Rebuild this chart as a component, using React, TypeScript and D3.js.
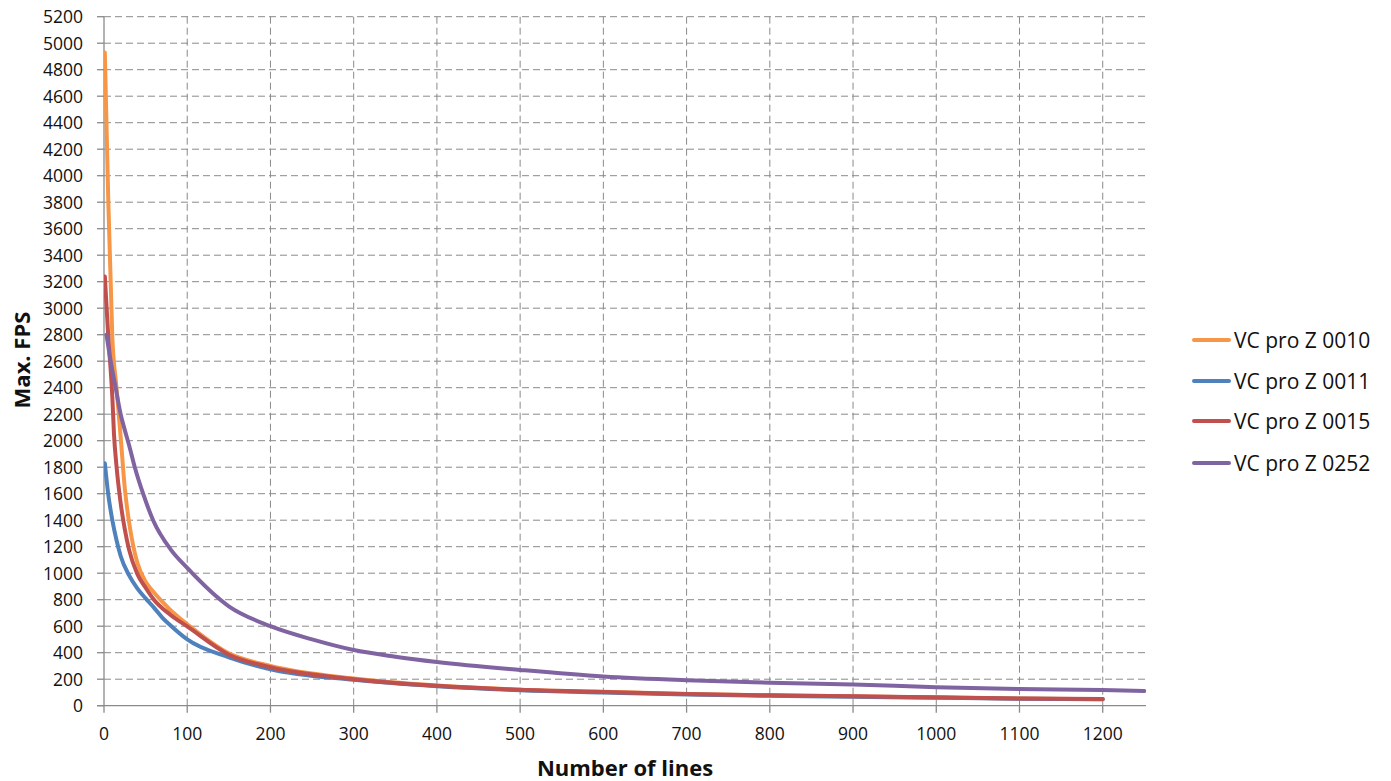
import React from "react";
import * as d3 from "d3";

const seriesNames = ["VC pro Z 0010", "VC pro Z 0011", "VC pro Z 0015", "VC pro Z 0252"];
const seriesColors = ["#F79646", "#4F81BD", "#C0504D", "#8064A2"];

const xOrange = [1, 5, 10, 15, 20, 25, 30, 35, 40, 50, 60, 70, 80, 90, 100, 150, 200, 300, 400, 500, 600, 700, 800, 900, 1000, 1100, 1200];
const yOrange = [4930, 3850, 2780, 2400, 2030, 1640, 1390, 1210, 1080, 935, 855, 785, 720, 665, 615, 395, 300, 205, 152, 121, 105, 89, 78, 71, 62, 54, 49];

const xBlue = [1, 5, 10, 15, 20, 30, 40, 50, 60, 70, 80, 100, 150, 200, 300, 400, 500, 600, 700, 800, 900, 1000, 1100, 1200];
const yBlue = [1830, 1600, 1400, 1250, 1130, 985, 885, 810, 740, 665, 605, 500, 365, 275, 195, 147, 117, 100, 85, 75, 68, 60, 52, 48];

const xRed = [1, 5, 10, 12, 15, 20, 25, 30, 40, 50, 60, 80, 100, 150, 200, 300, 400, 500, 600, 700, 800, 900, 1000, 1100, 1200];
const yRed = [3240, 2800, 2330, 2050, 1810, 1530, 1330, 1180, 995, 890, 800, 685, 598, 385, 290, 200, 150, 120, 104, 88, 78, 72, 63, 54, 50];

const xPurple = [3, 8, 14, 20, 25, 30, 37, 47, 59, 80, 100, 150, 200, 250, 300, 350, 400, 500, 600, 700, 800, 900, 1000, 1100, 1200, 1250];
const yPurple = [2800, 2600, 2400, 2200, 2080, 1970, 1800, 1600, 1400, 1180, 1040, 750, 600, 500, 420, 370, 330, 270, 220, 192, 174, 160, 140, 126, 118, 111];

const xTicks = [0, 100, 200, 300, 400, 500, 600, 700, 800, 900, 1000, 1100, 1200];
const yTicks = d3.range(0, 5201, 200);

const xTitle = "Number of lines";
const yTitle = "Max. FPS";

const W = 1391;
const H = 781;
const left = 104;
const right = 1146;
const top = 16.7;
const bottom = 705.7;

export default function App() {
  const x = d3.scaleLinear().domain([0, 1252]).range([left, right]);
  const y = d3.scaleLinear().domain([0, 5200]).range([bottom, top]);

  const series = [
    { xs: xOrange, ys: yOrange },
    { xs: xBlue, ys: yBlue },
    { xs: xRed, ys: yRed },
    { xs: xPurple, ys: yPurple },
  ];

  const line = d3
    .line<[number, number]>()
    .x((d) => x(d[0]))
    .y((d) => y(d[1]))
    .curve(d3.curveMonotoneX);

  const font = "'Open Sans', 'DejaVu Sans', sans-serif";
  const gridColor = "#8a8a8a";

  return (
    <svg
      width={W}
      height={H}
      style={{ position: "absolute", left: 0, top: 0, background: "#fff" }}
      fontFamily={font}
    >
      <defs>
        <clipPath id="plotClip">
          <rect x={left} y={top - 5} width={right - left} height={bottom - top + 5} />
        </clipPath>
      </defs>
      {yTicks.filter((t) => t > 0).map((t) => (
        <line
          key={"hg" + t}
          x1={left}
          x2={right}
          y1={y(t)}
          y2={y(t)}
          stroke={gridColor}
          strokeWidth={1}
          strokeDasharray="7,4"
        />
      ))}
      {xTicks.filter((t) => t > 0).map((t) => (
        <line
          key={"vg" + t}
          x1={x(t)}
          x2={x(t)}
          y1={top}
          y2={bottom}
          stroke={gridColor}
          strokeWidth={1}
          strokeDasharray="7,4"
        />
      ))}
      <line x1={left} x2={left} y1={top} y2={bottom} stroke={gridColor} strokeWidth={1.3} />
      <line x1={left - 7} x2={right} y1={bottom} y2={bottom} stroke={gridColor} strokeWidth={1.3} />
      {yTicks.map((t) => (
        <g key={"yt" + t}>
          <line x1={left - 7} x2={left} y1={y(t)} y2={y(t)} stroke={gridColor} strokeWidth={1.3} />
          <text x={83} y={y(t)} dy="0.36em" textAnchor="end" fontSize={17.5} fill="#111">
            {t}
          </text>
        </g>
      ))}
      {xTicks.map((t) => (
        <g key={"xt" + t}>
          <line x1={x(t)} x2={x(t)} y1={bottom} y2={bottom + 7} stroke={gridColor} strokeWidth={1.3} />
          <text x={x(t)} y={740} textAnchor="middle" fontSize={17.5} fill="#111">
            {t}
          </text>
        </g>
      ))}
      <g clipPath="url(#plotClip)">
        {series.map((s, i) => (
          <path
            key={"s" + i}
            d={line(s.xs.map((v, j) => [v, s.ys[j]] as [number, number])) || ""}
            fill="none"
            stroke={seriesColors[i]}
            strokeWidth={4}
            strokeLinejoin="round"
            strokeLinecap="round"
          />
        ))}
      </g>
      <text x={625} y={776} textAnchor="middle" fontSize={22} fontWeight="bold" fill="#111">
        {xTitle}
      </text>
      <text
        transform="translate(30,360) rotate(-90)"
        textAnchor="middle"
        fontSize={22}
        fontWeight="bold"
        fill="#111"
      >
        {yTitle}
      </text>
      {seriesNames.map((n, i) => {
        const ly = [340, 381, 421, 463][i];
        return (
          <g key={"lg" + i}>
            <line x1={1194} x2={1229} y1={ly} y2={ly} stroke={seriesColors[i]} strokeWidth={4} strokeLinecap="round" />
            <text x={1234} y={ly} dy="0.36em" fontSize={21} fill="#111">
              {n}
            </text>
          </g>
        );
      })}
    </svg>
  );
}
